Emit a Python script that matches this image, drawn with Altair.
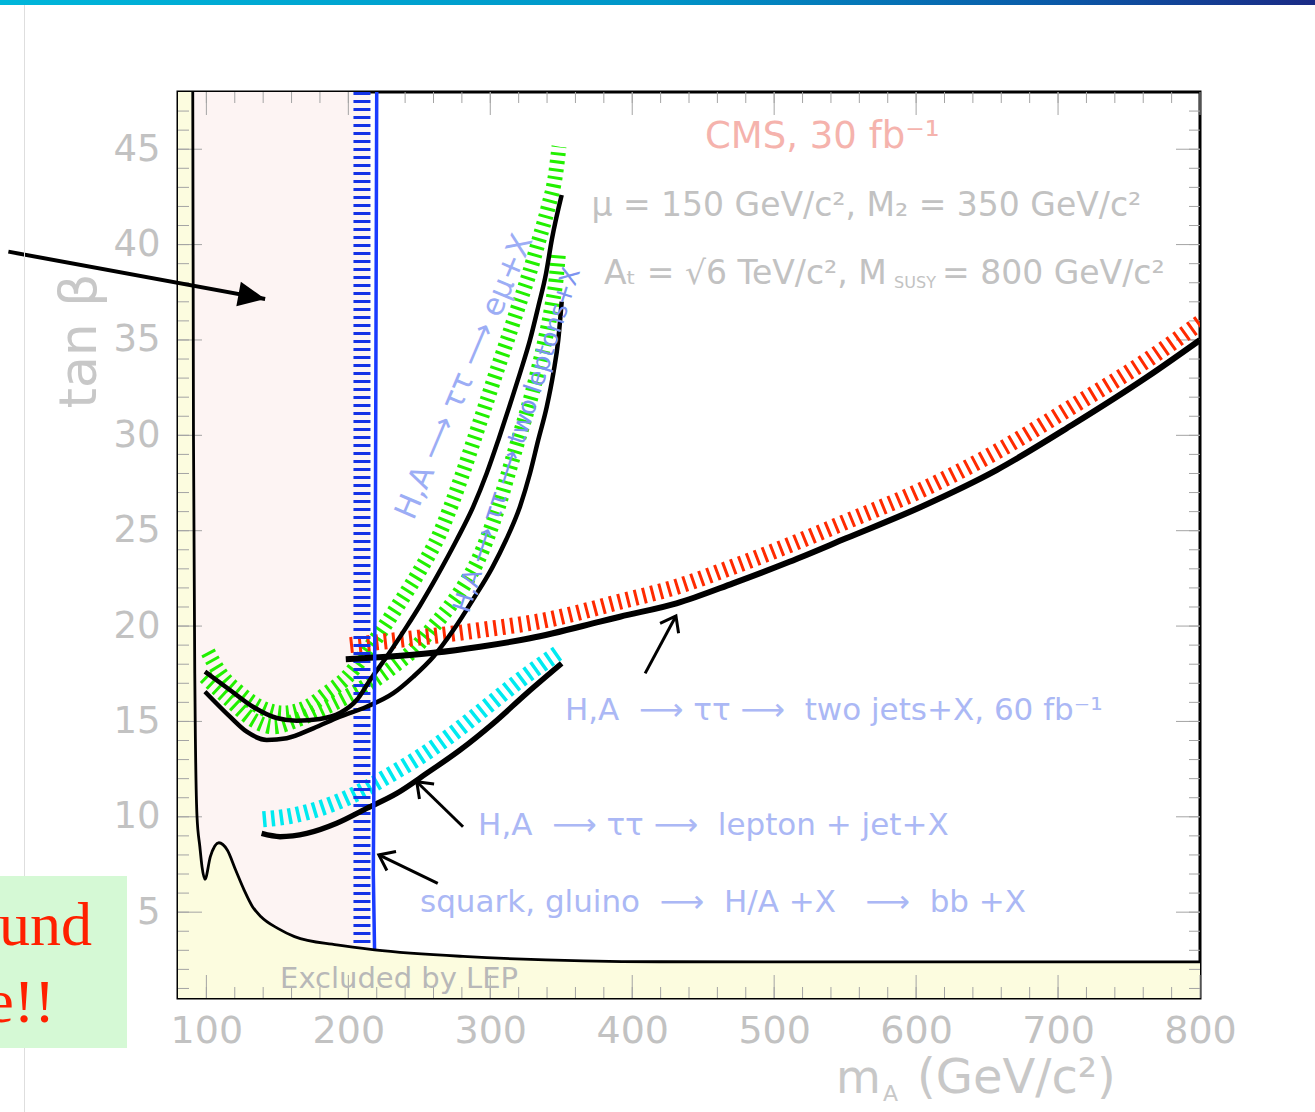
import math
import altair as alt
import pandas as pd

# ---------------- axes ----------------
X_DOMAIN = [80, 800]
Y_DOMAIN = [0.5, 48]
X_LABELS = [100, 200, 300, 400, 500, 600, 700, 800]
Y_LABELS = [5, 10, 15, 20, 25, 30, 35, 40, 45]
X_MINOR = [100 + 20 * k for k in range(35)]
Y_MINOR = [1 + k for k in range(47)]

# ---------------- curves (m_A, tan beta) ----------------
LEP_MA = [90.4, 90.9, 92.0, 93.4, 95.4, 96.9, 99.0, 102.8, 108.8, 114.7, 120.6, 126.6,
          132.5, 138.5, 150.3, 162.1, 191.8, 218.5, 280.8, 419.6, 800.0]
LEP_TB = [48.0, 30.0, 16.0, 10.0, 8.43, 7.39, 6.72, 7.91, 8.64, 8.26, 7.21, 6.16,
          5.29, 4.76, 4.15, 3.72, 3.28, 3.02, 2.68, 2.40, 2.39]
HATCH_MA = [90.4, 215.3]

EMU_MA = [99.0, 116.6, 132.8, 149.5, 163.6, 180.0, 194.1, 205.9, 215.3, 227.0, 241.1, 250.5,
          262.3, 276.3, 288.0, 297.5, 305.7, 313.4, 320.9, 328.0, 333.8, 339.3, 343.3, 350.3]
EMU_TB = [17.61, 16.65, 15.77, 15.18, 15.04, 15.13, 15.44, 16.12, 17.17, 18.39, 19.97, 21.08,
          22.59, 24.51, 26.26, 28.01, 29.76, 31.50, 33.25, 35.00, 36.74, 38.49, 40.24, 42.60]
EMU_HATCH_MA = [101.1, 109.6, 123.7, 137.8, 154.0, 170.9, 185.0, 199.1, 210.3, 222.3, 234.3, 250.5,
                263.9, 272.1, 280.6, 288.5, 296.3, 304.0, 312.0, 319.7, 327.5, 334.3, 340.9, 346.1, 348.4]
EMU_HATCH_TB = [18.64, 17.54, 16.49, 15.76, 15.44, 15.76, 16.49, 17.33, 18.38, 19.64, 21.00, 22.93,
                24.77, 26.26, 28.01, 29.76, 31.50, 33.25, 35.00, 36.74, 38.49, 40.24, 41.99, 43.74, 45.13]

LL_MA = [99.0, 116.6, 128.4, 142.5, 156.6, 175.3, 194.1, 212.9, 231.7, 245.8, 259.9, 274.0,
         288.5, 301.2, 311.1, 320.9, 328.0, 333.8, 339.8, 344.4, 347.9, 350.3]
LL_TB = [16.56, 15.25, 14.46, 14.03, 14.12, 14.64, 15.25, 15.77, 16.48, 17.35, 18.39, 19.79,
         21.47, 23.04, 24.51, 26.26, 28.01, 29.76, 31.50, 33.25, 35.00, 37.01]
LL_HATCH_MA = [99.0, 116.6, 133.1, 147.2, 163.6, 180.0, 198.9, 215.3, 231.7, 245.8, 259.9, 271.6,
               282.2, 291.4, 298.4, 305.7, 312.7, 319.7, 326.8, 333.1, 338.6, 343.3, 346.8, 347.9]
LL_HATCH_TB = [17.35, 16.12, 15.07, 14.72, 15.07, 15.60, 16.30, 17.00, 17.87, 18.74, 19.97, 21.05,
               22.21, 23.46, 24.72, 26.26, 28.01, 29.76, 31.50, 33.25, 35.00, 36.74, 38.49, 39.45]

JJ_MA = [198.2, 227.0, 259.9, 292.8, 328.0, 377.3, 391.4, 431.2, 471.0, 510.8, 550.6, 603.7,
         656.7, 709.8, 762.9, 800.0]
JJ_TB = [18.26, 18.39, 18.60, 18.92, 19.36, 20.23, 20.49, 21.19, 22.24, 23.37, 24.60, 26.26,
         28.18, 30.54, 33.07, 35.0]
JJ_HATCH_MA = [201.2, 245.8, 292.8, 339.7, 391.4, 431.2, 471.0, 510.8, 550.6, 603.7, 656.7,
               709.8, 762.9, 800.0]
JJ_HATCH_TB = [19.0, 19.36, 19.79, 20.32, 21.28, 22.06, 23.11, 24.25, 25.47, 27.13, 29.14,
               31.50, 33.95, 35.9]

LJ_MA = [138.9, 151.9, 170.7, 191.8, 212.9, 234.1, 255.2, 278.7, 302.1, 325.6, 350.3]
LJ_TB = [9.13, 8.96, 9.13, 9.66, 10.44, 11.23, 12.28, 13.50, 14.90, 16.47, 18.04]
LJ_HATCH_MA = [139.7, 158.9, 180.0, 203.5, 227.0, 250.5, 274.0, 297.5, 321.0, 349.1]
LJ_HATCH_TB = [9.87, 10.04, 10.44, 11.14, 12.10, 13.15, 14.38, 15.77, 17.17, 18.66]

BB_MA = [220.0, 219.0, 217.6, 218.5]
BB_TB = [48.0, 23.5, 7.0, 2.96]
BB_HATCH_MA = [209.6, 209.6]
BB_HATCH_TB = [48.0, 3.12]

# ---------------- annotations (text, m_A, tan beta) ----------------
NB = "\u00a0"
ARR = "\u27f6"
T_CMS = ("CMS, 30 fb\u207b\u00b9", 451.3, 45.64)
T_MU = ("\u03bc = 150 GeV/c\u00b2, M\u2082 = 350 GeV/c\u00b2", 371.3, 42.02)
T_AT = ("A\u209c = \u221a6 TeV/c\u00b2, M", 380.1, 38.46)
T_SUSY = ("SUSY", 584.5, 38.0)
T_MSUSY = ("= 800 GeV/c\u00b2", 618.3, 38.46)
T_JJ = ("H,A" + NB * 2 + ARR + NB + "\u03c4\u03c4" + NB + ARR + NB * 2 + "two jets+X, 60 fb\u207b\u00b9",
        352.6, 15.56)
T_LJ = ("H,A" + NB * 2 + ARR + NB + "\u03c4\u03c4" + NB + ARR + NB * 2 + "lepton + jet+X", 291.4, 9.52)
T_BB = ("squark, gluino" + NB * 2 + ARR + NB * 2 + "H/A +X" + NB * 3 + ARR + NB * 2 + "bb +X",
        250.5, 5.48)
T_EMU = ("H,A " + ARR + " \u03c4\u03c4 " + ARR + " e\u03bc+X", 282.2, 33.06)
T_LL = ("H,A " + ARR + " \u03c4\u03c4 " + ARR + " two leptons+X", 318.8, 29.76)
T_LEP = ("Excluded by LEP", 151.9, 1.50)
T_TANB = ("tan \u03b2", 10.96, 34.95)
T_M = ("m", 543.6, -4.48)
T_A = ("A", 576.7, -4.9)
T_UNIT = ("(GeV/c\u00b2)", 600.6, -4.48)

# arrows: (tail m_A, tail tanb, tip m_A, tip tanb)
ARROW_MAIN = (-39.5, 39.63, 141.4, 37.15)
ARROWS_OPEN = [(409.1, 17.52, 430.8, 20.53),
               (280.8, 9.48, 248.2, 11.84),
               (263.0, 6.51, 221.5, 8.0)]

# ---------------- styling ----------------
W, H = 1022, 906
FONT = "DejaVu Sans"
GRAY_TXT = "#c2c2c2"
BLUE_TXT = "#abb8f5"
TICK = "#a4a4a4"

XS = alt.Scale(domain=X_DOMAIN, nice=False, zero=False)
YS = alt.Scale(domain=Y_DOMAIN, nice=False, zero=False)
XAX = alt.Axis(values=X_LABELS, title=None, grid=False, ticks=False, tickSize=0, domain=False,
               labelFont=FONT, labelFontSize=38, labelColor=GRAY_TXT, labelPadding=14,
               labelFlush=False, labelOverlap=False, format="d")
YAX = alt.Axis(values=Y_LABELS, title=None, grid=False, ticks=False, tickSize=0, domain=False,
               labelFont=FONT, labelFontSize=37, labelColor=GRAY_TXT, labelPadding=18,
               labelOverlap=False, format="d")


def ex(f):
    return alt.X(f, type="quantitative", scale=XS, axis=XAX)


def ey(f):
    return alt.Y(f, type="quantitative", scale=YS, axis=YAX)


def curve(xs, ys, color, width, dash=None, interp="monotone"):
    df = pd.DataFrame({"x": xs, "y": ys, "i": list(range(len(xs)))})
    kw = dict(color=color, strokeWidth=width, interpolate=interp, clip=True, strokeCap="butt")
    if dash:
        kw["strokeDash"] = dash
    return alt.Chart(df).mark_line(**kw).encode(x=ex("x"), y=ey("y"), order="i:Q")


def text(item, size, color, align="left", baseline="middle", angle=0, font=FONT):
    s, x, y = item
    df = pd.DataFrame({"x": [x], "y": [y], "t": [s]})
    return alt.Chart(df).mark_text(align=align, baseline=baseline, angle=angle, fontSize=size,
                                   color=color, font=font).encode(x=ex("x"), y=ey("y"), text="t:N")


def xticks(vals, y0, y1):
    return alt.Chart(pd.DataFrame({"v": vals})).mark_rule(color=TICK, strokeWidth=1).encode(
        x=ex("v"), y=alt.value(y0), y2=alt.value(y1))


def yticks(vals, x0, x1):
    return alt.Chart(pd.DataFrame({"v": vals})).mark_rule(color=TICK, strokeWidth=1).encode(
        y=ey("v"), x=alt.value(x0), x2=alt.value(x1))


def px_angle(a):
    dx = (a[2] - a[0]) * W / (X_DOMAIN[1] - X_DOMAIN[0])
    dy = -(a[3] - a[1]) * H / (Y_DOMAIN[1] - Y_DOMAIN[0])
    return math.degrees(math.atan2(dy, dx)) % 360


def arrow(a, width, head, size, filled):
    shaft = alt.Chart(pd.DataFrame({"x": [a[0]], "y": [a[1]], "x2": [a[2]], "y2": [a[3]]})).mark_rule(
        color="black", strokeWidth=width).encode(x=ex("x"), y=ey("y"), x2="x2", y2="y2")
    hd = pd.DataFrame({"x": [a[2]], "y": [a[3]]})
    if filled:
        m = alt.Chart(hd).mark_point(shape=head, size=size, filled=True, color="black", opacity=1,
                                     angle=px_angle(a))
    else:
        m = alt.Chart(hd).mark_point(shape=head, size=size, filled=False, color="black", opacity=1,
                                     strokeWidth=3, strokeJoin="miter", angle=px_angle(a))
    return shaft + m.encode(x=ex("x"), y=ey("y"))


ONE = pd.DataFrame({"k": [0]})
layers = []

# excluded regions (fine hatching rendered as its average tint)
layers.append(alt.Chart(pd.DataFrame({"x": [HATCH_MA[0]], "x2": [HATCH_MA[1]],
                                      "y": [Y_DOMAIN[1]], "y2": [Y_DOMAIN[0]]}))
              .mark_rect(color="#fdf4f3").encode(x=ex("x"), x2="x2", y=ey("y"), y2="y2"))
lep_area = pd.DataFrame({"x": [X_DOMAIN[0]] + LEP_MA, "y": [Y_DOMAIN[1]] + LEP_TB,
                         "b": [Y_DOMAIN[0]] * (len(LEP_MA) + 1)})
layers.append(alt.Chart(lep_area).mark_area(color="#fcfcdf", interpolate="monotone", clip=True)
              .encode(x=ex("x"), y=ey("y"), y2="b"))

# ROOT-style inner ticks
layers += [xticks(X_MINOR, H, H - 11), xticks(X_LABELS, H, H - 23),
           xticks(X_MINOR, 0, 11), xticks(X_LABELS, 0, 23),
           yticks(Y_MINOR, 0, 11), yticks(Y_LABELS, 0, 24),
           yticks(Y_MINOR, W, W - 11), yticks(Y_LABELS, W, W - 24)]

# hatched contours
layers.append(curve(EMU_HATCH_MA, EMU_HATCH_TB, "#22f000", 15, [3, 5]))
layers.append(curve(LL_HATCH_MA, LL_HATCH_TB, "#22f000", 15, [3, 5]))
layers.append(curve(JJ_HATCH_MA, JJ_HATCH_TB, "#ff2a00", 16, [3, 5.5]))
layers.append(curve(LJ_HATCH_MA, LJ_HATCH_TB, "#00eaf0", 16, [3.5, 5]))
layers.append(curve(BB_HATCH_MA, BB_HATCH_TB, "#1432e6", 17, [3, 5], interp="linear"))

# solid contours
layers.append(curve(EMU_MA, EMU_TB, "black", 4.5))
layers.append(curve(LL_MA, LL_TB, "black", 4.5))
layers.append(curve(JJ_MA, JJ_TB, "black", 6))
layers.append(curve(LJ_MA, LJ_TB, "black", 5.5))
layers.append(curve(BB_MA, BB_TB, "#1a3cff", 3.5, interp="linear"))
layers.append(curve(LEP_MA, LEP_TB, "black", 2.8))

# texts
layers.append(text(T_CMS, 37, "#f5b3ad"))
layers.append(text(T_MU, 33, GRAY_TXT))
layers.append(text(T_AT, 33, GRAY_TXT))
layers.append(text(T_SUSY, 16, GRAY_TXT))
layers.append(text(T_MSUSY, 33, GRAY_TXT))
layers.append(text(T_JJ, 31, BLUE_TXT))
layers.append(text(T_LJ, 31, BLUE_TXT))
layers.append(text(T_BB, 31, BLUE_TXT))
layers.append(text(T_EMU, 31, "#9cadf5", align="center", angle=293))
layers.append(text(T_LL, 25, "#7d93f0", align="center", angle=288))
layers.append(text(T_LEP, 29, "#b8b8b8"))
layers.append(text(T_TANB, 52, "#c8c8c8", align="center", angle=270))
layers.append(text(T_M, 46, "#c8c8c8", baseline="alphabetic"))
layers.append(text(T_A, 22, "#c8c8c8", baseline="alphabetic"))
layers.append(text(T_UNIT, 48, "#c8c8c8", baseline="alphabetic"))

# arrows
layers.append(arrow(ARROW_MAIN, 4, "M0,0L-1,-0.46L-1,0.46Z", 2916, True))
for a in ARROWS_OPEN:
    layers.append(arrow(a, 3, "M-1,-0.75L0,0L-1,0.75", 784, False))

# slide decoration around the figure (pixel offsets from the plot's top-left corner)
GRAD = {"gradient": "linear", "x1": 0, "x2": 1, "y1": 0, "y2": 0,
        "stops": [{"offset": 0, "color": "#00b6da"}, {"offset": 0.5, "color": "#0095c8"},
                  {"offset": 0.8, "color": "#0a5aa8"}, {"offset": 1, "color": "#1b2a85"}]}
layers.append(alt.Chart(ONE).mark_rect(color=GRAD).encode(
    x=alt.value(-178), x2=alt.value(1137), y=alt.value(-92), y2=alt.value(-87)))
layers.append(alt.Chart(ONE).mark_rule(color="#dedede", strokeWidth=1).encode(
    x=alt.value(-153.5), y=alt.value(-87), y2=alt.value(1020)))
layers.append(alt.Chart(ONE).mark_rect(color="#d5f9d5").encode(
    x=alt.value(-178), x2=alt.value(-51), y=alt.value(784), y2=alt.value(956)))
layers.append(alt.Chart(ONE).mark_text(align="right", baseline="alphabetic", fontSize=62,
                                       font="Liberation Serif", color="#ff2000").encode(
    x=alt.value(-86), y=alt.value(853), text=alt.value("und")))
layers.append(alt.Chart(ONE).mark_text(align="right", baseline="alphabetic", fontSize=62,
                                       font="Liberation Serif", color="#ff2000").encode(
    x=alt.value(-123), y=alt.value(930), text=alt.value("e!!")))

chart = alt.layer(*layers).properties(
    width=W, height=H,
    padding={"left": 178, "top": 92, "right": 115, "bottom": 114},
    autosize=alt.AutoSizeParams(type="none"),
    background="white",
).configure_view(stroke="black", strokeWidth=3)

chart.save("out.html", embed_options={"renderer": "svg", "actions": False})
